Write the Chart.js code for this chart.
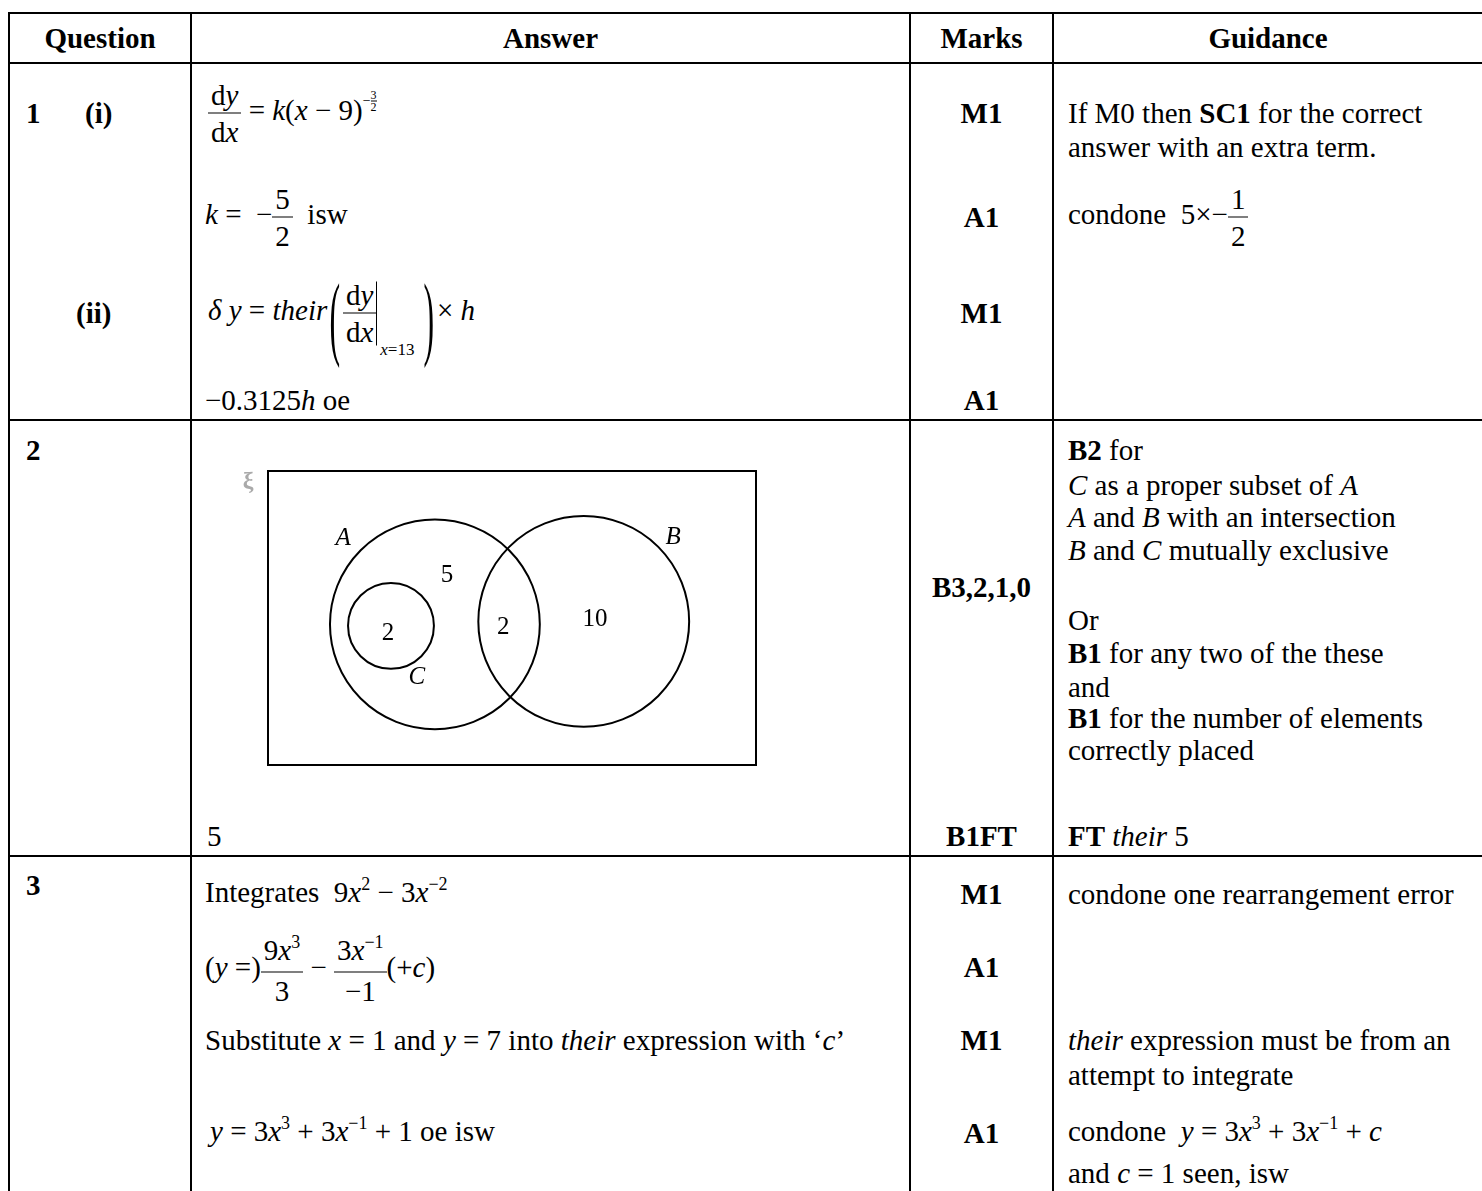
<!DOCTYPE html>
<html>
<head>
<meta charset="utf-8">
<title>Mark scheme</title>
<script src="https://cdn.jsdelivr.net/npm/chart.js"></script>
<style>
body{margin:0;background:#fff;}
#page{position:relative;width:1482px;height:1191px;overflow:hidden;font-family:"Liberation Serif","Times New Roman",serif;font-size:29px;color:#000;}
.h{position:absolute;left:8px;width:1480px;height:2px;background:#000;}
.v{position:absolute;top:12px;height:1185px;width:2px;background:#000;}
.t{position:absolute;white-space:nowrap;line-height:32px;transform:translateY(-50%);}
.q{left:26px;font-weight:bold;}
.a{left:205px;}
.m{left:910px;width:143px;text-align:center;font-weight:bold;}
.g{left:1068px;}
.hd{font-weight:bold;text-align:center;}
.frac{display:inline-block;vertical-align:middle;text-align:center;}
.frac>span{display:block;line-height:36px;padding:0 3px;}
.frac>span:first-child{border-bottom:1.5px solid #000;}
sup{font-size:18px;vertical-align:baseline;position:relative;top:-12px;}
.tsup{display:inline-block;font-size:14px;vertical-align:middle;position:relative;top:-13px;}
.tf{display:inline-block;vertical-align:middle;text-align:center;}
.tf>span{display:block;line-height:11px;font-size:12px;}
.tf>span:first-child{border-bottom:1px solid #000;}
.bp{display:inline-block;vertical-align:middle;transform:scale(1.1,3.2);position:relative;top:3px;margin:0 3px;}
.ev{display:inline-block;vertical-align:middle;height:64px;width:44px;border-left:1.5px solid #000;position:relative;}
.ev span{position:absolute;left:3px;bottom:-12px;font-size:17px;line-height:17px;}
#venn{position:absolute;left:230px;top:455px;}
</style>
</head>
<body>
<div id="page">
  <!-- grid lines -->
  <div class="h" style="top:12px"></div>
  <div class="h" style="top:62px"></div>
  <div class="h" style="top:419px"></div>
  <div class="h" style="top:855px"></div>
  <div class="v" style="left:8px"></div>
  <div class="v" style="left:190px"></div>
  <div class="v" style="left:909px"></div>
  <div class="v" style="left:1052px"></div>

  <!-- header -->
  <div class="t hd" style="left:10px;width:180px;top:38px">Question</div>
  <div class="t hd" style="left:192px;width:717px;top:38px">Answer</div>
  <div class="t hd" style="left:911px;width:141px;top:38px">Marks</div>
  <div class="t hd" style="left:1054px;width:428px;top:38px">Guidance</div>

  <!-- question 1 -->
  <div class="t q" style="top:113px">1</div>
  <div class="t q" style="left:85px;top:113px">(i)</div>
  <div class="t a" style="left:208px;top:113px"><span class="frac"><span>d<i>y</i></span><span>d<i>x</i></span></span> = <i>k</i>(<i>x</i> − 9)<span class="tsup">−<span class="tf"><span>3</span><span>2</span></span></span></div>
  <div class="t m" style="top:113px">M1</div>
  <div class="t g" style="top:113px">If M0 then <b>SC1</b> for the correct</div>
  <div class="t g" style="top:147px">answer with an extra term.</div>

  <div class="t a" style="top:217px"><i>k</i> = &nbsp;−<span class="frac"><span>5</span><span>2</span></span>&nbsp; isw</div>
  <div class="t m" style="top:217px">A1</div>
  <div class="t g" style="top:217px">condone&nbsp; 5×−<span class="frac"><span>1</span><span>2</span></span></div>

  <div class="t q" style="left:76px;top:313px">(ii)</div>
  <div class="t a" style="left:208px;top:313px"><i>δ y</i> = <i>their</i><span class="bp">(</span><span class="frac"><span>d<i>y</i></span><span>d<i>x</i></span></span><span class="ev"><span><i>x</i>=13</span></span><span class="bp">)</span>× <i>h</i></div>
  <div class="t m" style="top:313px">M1</div>

  <div class="t a" style="top:400px">−0.3125<i>h</i> oe</div>
  <div class="t m" style="top:400px">A1</div>

  <!-- question 2 -->
  <div class="t q" style="top:450px">2</div>
  <canvas id="venn" width="560" height="330"></canvas>
  <div class="t a" style="left:207px;top:836px">5</div>
  <div class="t m" style="top:587px">B3,2,1,0</div>
  <div class="t m" style="top:836px">B1FT</div>
  <div class="t g" style="top:450px"><b>B2</b> for</div>
  <div class="t g" style="top:485px"><i>C</i> as a proper subset of <i>A</i></div>
  <div class="t g" style="top:517px"><i>A</i> and <i>B</i> with an intersection</div>
  <div class="t g" style="top:550px"><i>B</i> and <i>C</i> mutually exclusive</div>
  <div class="t g" style="top:620px">Or</div>
  <div class="t g" style="top:653px"><b>B1</b> for any two of the these</div>
  <div class="t g" style="top:687px">and</div>
  <div class="t g" style="top:718px"><b>B1</b> for the number of elements</div>
  <div class="t g" style="top:750px">correctly placed</div>
  <div class="t g" style="top:836px"><b>FT</b> <i>their</i> 5</div>

  <!-- question 3 -->
  <div class="t q" style="top:885px">3</div>
  <div class="t a" style="top:894px">Integrates&nbsp; 9<i>x</i><sup>2</sup> − 3<i>x</i><sup>−2</sup></div>
  <div class="t m" style="top:894px">M1</div>
  <div class="t g" style="top:894px">condone one rearrangement error</div>

  <div class="t a" style="top:970px">(<i>y</i> =)<span class="frac"><span>9<i>x</i><sup>3</sup></span><span>3</span></span> − <span class="frac"><span>3<i>x</i><sup>−1</sup></span><span>−1</span></span>(+<i>c</i>)</div>
  <div class="t m" style="top:967px">A1</div>

  <div class="t a" style="top:1040px">Substitute <i>x</i> = 1 and <i>y</i> = 7 into <i>their</i> expression with ‘<i>c</i>’</div>
  <div class="t m" style="top:1040px">M1</div>
  <div class="t g" style="top:1040px"><i>their</i> expression must be from an</div>
  <div class="t g" style="top:1075px">attempt to integrate</div>

  <div class="t a" style="left:210px;top:1133px"><i>y</i> = 3<i>x</i><sup>3</sup> + 3<i>x</i><sup>−1</sup> + 1 oe isw</div>
  <div class="t m" style="top:1133px">A1</div>
  <div class="t g" style="top:1133px">condone&nbsp; <i>y</i> = 3<i>x</i><sup>3</sup> + 3<i>x</i><sup>−1</sup> + <i>c</i></div>
  <div class="t g" style="top:1173px">and <i>c</i> = 1 seen, isw</div>
</div>

<script>
// Venn diagram, in diagram units (box is x 0-100, y 0-60)
const setNames = ["A", "B", "C"];
const setCentreX = [34.2, 64.7, 25.2];
const setCentreY = [28.7, 29.3, 28.4];
const setRadius = [21.5, 21.6, 8.8];
const setLabelX = [15.4, 83.0, 30.5];
const setLabelY = [46.3, 46.5, 17.8];

// number of elements in each region
const regionCounts = ["2", "5", "2", "10"];
const regionX = [24.6, 36.7, 48.2, 67.0];
const regionY = [26.9, 38.6, 28.0, 29.8];

const serif = '"Liberation Serif", "Times New Roman", serif';

// box round the universal set, plus set names and counts
const vennText = {
  id: "vennText",
  beforeDatasetsDraw(chart) {
    const { ctx, chartArea: a } = chart;
    ctx.save();
    ctx.strokeStyle = "#000";
    ctx.lineWidth = 2;
    ctx.strokeRect(a.left, a.top, a.right - a.left, a.bottom - a.top);
    ctx.fillStyle = "#aaaaaa";
    ctx.font = "bold 24px " + serif;
    ctx.textAlign = "center";
    ctx.textBaseline = "middle";
    ctx.fillText("ξ", a.left - 20, a.top + 11);
    ctx.restore();
  },
  afterDatasetsDraw(chart) {
    const { ctx } = chart;
    const x = chart.scales.x, y = chart.scales.y;
    ctx.save();
    ctx.fillStyle = "#000";
    ctx.textAlign = "center";
    ctx.textBaseline = "middle";
    ctx.font = "italic 25px " + serif;
    setNames.forEach((n, i) => {
      ctx.fillText(n, x.getPixelForValue(setLabelX[i]), y.getPixelForValue(setLabelY[i]));
    });
    ctx.font = "25px " + serif;
    regionCounts.forEach((n, i) => {
      ctx.fillText(n, x.getPixelForValue(regionX[i]), y.getPixelForValue(regionY[i]));
    });
    ctx.restore();
  }
};

// circle radius is in diagram units, the x scale turns it into pixels
function setRadiusPx(ctx) {
  const xs = ctx.chart.scales.x;
  const i = ctx.dataIndex;
  const r = xs.getPixelForValue(setCentreX[i] + setRadius[i]) - xs.getPixelForValue(setCentreX[i]);
  return isFinite(r) && r > 0 ? r : 0;
}

const vennCanvas = document.getElementById("venn");
const venn = new Chart(vennCanvas, {
  type: "scatter",
  data: {
    datasets: [{
      data: setCentreX.map((cx, i) => ({ x: cx, y: setCentreY[i] })),
      showLine: false,
      clip: false,
      pointBackgroundColor: "rgba(0,0,0,0)",
      pointBorderColor: "#000",
      pointBorderWidth: 2,
      pointHoverBorderWidth: 2,
      pointRadius: setRadiusPx,
      pointHoverRadius: setRadiusPx
    }]
  },
  options: {
    responsive: false,
    animation: false,
    events: [],
    layout: { padding: { left: 38, top: 16, right: 34, bottom: 20 } },
    plugins: { legend: { display: false }, tooltip: { enabled: false } },
    scales: {
      x: { type: "linear", min: 0, max: 100, display: false },
      y: { type: "linear", min: 0, max: 60, display: false }
    }
  },
  plugins: [vennText]
});
</script>
</body>
</html>
